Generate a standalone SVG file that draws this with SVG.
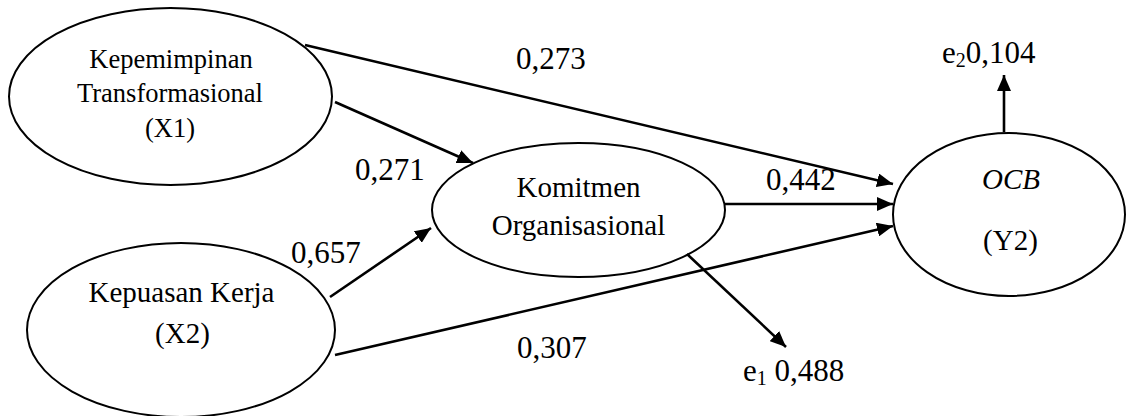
<svg xmlns="http://www.w3.org/2000/svg" width="1126" height="416" viewBox="0 0 1126 416">
<defs>
<style>
.node{fill:#fff;stroke:#000;stroke-width:2}
.lbl{font-family:"Liberation Serif","Times New Roman",serif;fill:#000;text-anchor:middle}
.x1{font-size:26.5px}
.n{font-size:29px}
.num{font-family:"Liberation Serif","Times New Roman",serif;fill:#000;font-size:31px}
.conn{stroke:#000;stroke-width:2.6;fill:none;marker-end:url(#ah)}
</style>
<marker id="ah" markerUnits="userSpaceOnUse" markerWidth="16" markerHeight="14" refX="16" refY="7" orient="auto">
<path d="M0,0 L16,7 L0,14 z" fill="#000"/>
</marker>
</defs>
<rect width="1126" height="416" fill="#fff"/>
<g id="node-x1">
<ellipse class="node" cx="170.5" cy="96.5" rx="161.5" ry="88.5"/>
<text class="lbl x1" x="171" y="68">Kepemimpinan</text>
<text class="lbl x1" x="170" y="102">Transformasional</text>
<text class="lbl x1" x="170" y="137">(X1)</text>
</g>
<g id="node-x2">
<ellipse class="node" cx="181" cy="330" rx="154" ry="87"/>
<text class="lbl n" x="181.5" y="302">Kepuasan Kerja</text>
<text class="lbl n" x="182.5" y="343">(X2)</text>
</g>
<g id="node-kom">
<ellipse class="node" cx="578.5" cy="210" rx="146.5" ry="67"/>
<text class="lbl n" x="578.5" y="197">Komitmen</text>
<text class="lbl n" x="578.5" y="235">Organisasional</text>
</g>
<g id="node-ocb">
<ellipse class="node" cx="1009" cy="214.5" rx="116" ry="81.5"/>
<text class="lbl n" x="1011" y="189" font-style="italic">OCB</text>
<text class="lbl n" x="1010.5" y="250">(Y2)</text>
</g>
<g id="connectors">
<line class="conn" x1="305" y1="45" x2="893" y2="184"/>
<line class="conn" x1="335" y1="102" x2="473" y2="163"/>
<line class="conn" x1="330" y1="297" x2="431" y2="228"/>
<line class="conn" x1="335" y1="355" x2="893" y2="226"/>
<line class="conn" x1="724" y1="204" x2="893" y2="204"/>
<line class="conn" x1="687" y1="254" x2="786" y2="347"/>
<line class="conn" x1="1004" y1="132" x2="1004" y2="75"/>
</g>
<g id="labels">
<text class="num" x="516" y="69">0,273</text>
<text class="num" x="355" y="180">0,271</text>
<text class="num" x="291" y="263">0,657</text>
<text class="num" x="766" y="190">0,442</text>
<text class="num" x="517" y="358">0,307</text>
<text class="num" x="743" y="381">e<tspan font-size="20" dy="4">1</tspan><tspan dy="-4"> 0,488</tspan></text>
<text class="num" x="942" y="63">e<tspan font-size="20" dy="4">2</tspan><tspan dy="-4">0,104</tspan></text>
</g>
</svg>
